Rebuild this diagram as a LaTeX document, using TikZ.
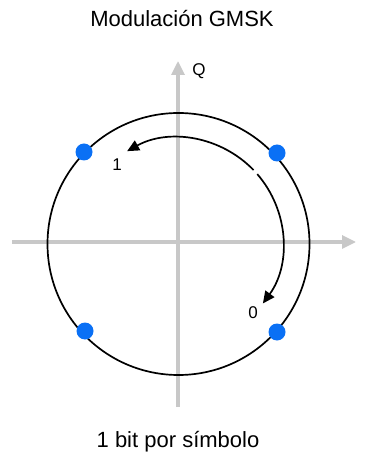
\documentclass[tikz,border=0pt]{standalone}
\usepackage{fontspec}
\setmainfont{Liberation Sans}
\usetikzlibrary{arrows.meta}
\definecolor{axisgray}{RGB}{200,200,200}
\definecolor{dotblue}{RGB}{10,112,245}
\begin{document}
\begin{tikzpicture}[x=0.5pt,y=-0.5pt,
  axisline/.style={draw=axisgray, line width=1.6pt, -{Triangle[length=7pt,width=6.5pt]}},
  ring/.style={draw=black, line width=0.85pt},
  turnarrow/.style={draw=black, line width=0.85pt, -{Triangle[length=6pt,width=5.5pt]}},
  symdot/.style={circle, fill=dotblue, minimum size=8.5pt, inner sep=0pt},
  smalllabel/.style={font=\fontsize{8.5}{10}\selectfont, inner sep=0pt},
  biglabel/.style={font=\fontsize{11}{13}\selectfont, inner sep=0pt}]
\useasboundingbox (0,0) rectangle (365,453);
% axes
\coordinate (xl) at (12,242);
\coordinate (xr) at (356,242);
\coordinate (yb) at (178,407);
\coordinate (yt) at (178,61);
\draw[axisline] (xl) -- (xr);
\draw[axisline] (yb) -- (yt);
% outer circle
\coordinate (oc) at (178.5,244);
\draw[ring] (oc) circle [radius=131];
% inner arrows
\coordinate (ic) at (178,243);
\draw[turnarrow] (ic) ++(-44:105) arc[start angle=-44, end angle=-119, radius=105];
\draw[turnarrow] (ic) ++(-41:105) arc[start angle=-41, end angle=36, radius=104];
% symbols
\node[symdot] (s1) at (84,152) {};
\node[symdot] (s2) at (277,153) {};
\node[symdot] (s3) at (85,331) {};
\node[symdot] (s4) at (277,332) {};
% labels
\node[smalllabel] (q) at (199,71) {Q};
\node[smalllabel] (one) at (117,165) {1};
\node[smalllabel] (zero) at (253,313) {0};
\node[biglabel] (title) at (182,19) {Modulación GMSK};
\node[biglabel] (foot) at (178,442) {1 bit por símbolo};
\end{tikzpicture}
\end{document}
